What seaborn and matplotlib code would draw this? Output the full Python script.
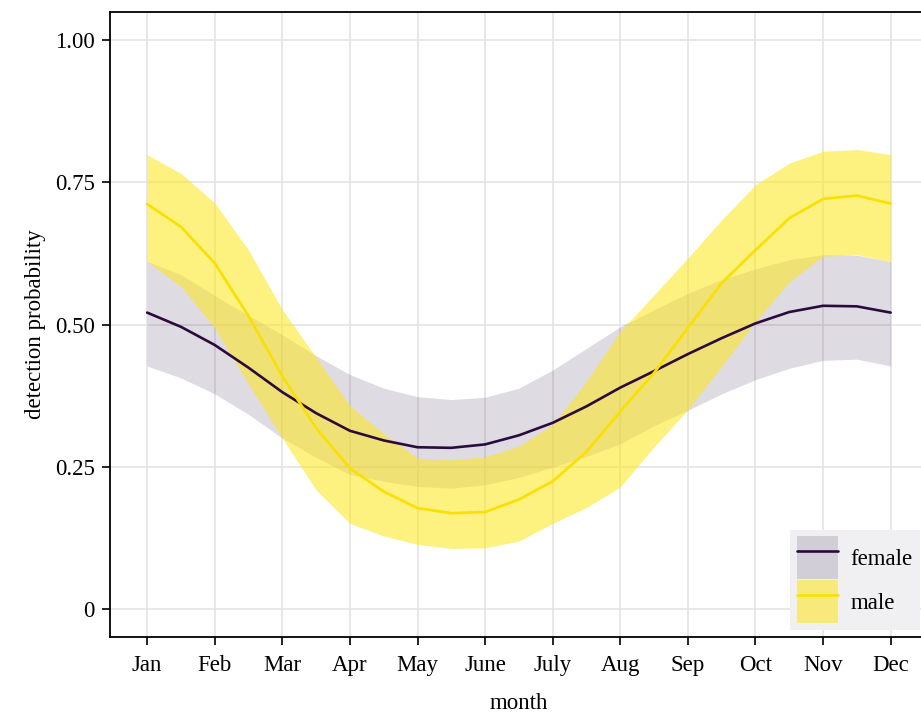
import numpy as np
import matplotlib.pyplot as plt
import pandas as pd
import seaborn as sns
from matplotlib.patches import Patch
from matplotlib.lines import Line2D

# month position (1 = Jan ... 12 = Dec), read at half-month steps
month_pos = [1, 1.5, 2, 2.5, 3, 3.5, 4, 4.5, 5, 5.5, 6, 6.5,
             7, 7.5, 8, 8.5, 9, 9.5, 10, 10.5, 11, 11.5, 12]
month_labels = ["Jan", "Feb", "Mar", "Apr", "May", "June",
                "July", "Aug", "Sep", "Oct", "Nov", "Dec"]

female_mean = [0.521, 0.496, 0.464, 0.424, 0.381, 0.344, 0.313, 0.296, 0.284, 0.283, 0.289, 0.305,
               0.327, 0.356, 0.389, 0.418, 0.448, 0.476, 0.502, 0.522, 0.533, 0.532, 0.521]
female_upper = [0.611, 0.588, 0.551, 0.516, 0.482, 0.445, 0.412, 0.388, 0.373, 0.368, 0.372, 0.388,
                0.420, 0.458, 0.496, 0.526, 0.555, 0.579, 0.598, 0.614, 0.623, 0.622, 0.611]
female_lower = [0.427, 0.406, 0.378, 0.342, 0.300, 0.266, 0.236, 0.224, 0.215, 0.212, 0.218, 0.231,
                0.249, 0.268, 0.290, 0.322, 0.349, 0.378, 0.403, 0.423, 0.437, 0.439, 0.427]

male_mean = [0.712, 0.672, 0.608, 0.515, 0.409, 0.318, 0.247, 0.206, 0.177, 0.168, 0.170, 0.192,
             0.224, 0.276, 0.347, 0.415, 0.494, 0.573, 0.631, 0.687, 0.721, 0.727, 0.713]
male_upper = [0.799, 0.766, 0.714, 0.631, 0.526, 0.442, 0.357, 0.308, 0.265, 0.262, 0.267, 0.286,
              0.324, 0.400, 0.488, 0.552, 0.617, 0.684, 0.746, 0.784, 0.805, 0.808, 0.799]
male_lower = [0.611, 0.567, 0.494, 0.395, 0.300, 0.209, 0.150, 0.128, 0.113, 0.106, 0.107, 0.119,
              0.150, 0.178, 0.214, 0.285, 0.350, 0.426, 0.505, 0.575, 0.620, 0.623, 0.611]

sns.set_style("whitegrid")
plt.rcParams["font.family"] = ["Liberation Serif", "DejaVu Serif"]
plt.rcParams["text.color"] = "black"
plt.rcParams["axes.labelcolor"] = "black"

female_line = "#2b0b3e"
male_line = "#f9e000"
female_fill = "#3b1f4d"
male_fill = "#fde725"
fs = 16.5

df = pd.concat([
    pd.DataFrame({"month": month_pos, "p": female_mean, "sex": "female"}),
    pd.DataFrame({"month": month_pos, "p": male_mean, "sex": "male"}),
])

fig = plt.figure(figsize=(9.21, 7.12), dpi=100)
ax = fig.add_axes([0.1194, 0.1053, 0.888, 0.8778])

ax.fill_between(month_pos, female_lower, female_upper, color=female_fill, alpha=0.16, lw=0)
ax.fill_between(month_pos, male_lower, male_upper, color=male_fill, alpha=0.58, lw=0)
sns.lineplot(data=df, x="month", y="p", hue="sex",
             palette={"female": female_line, "male": male_line},
             lw=1.9, legend=False, ax=ax)

ax.set_xlim(0.45, 12.55)
ax.set_ylim(-0.05, 1.05)
ax.set_xticks(range(1, 13))
ax.set_xticklabels(month_labels)
ax.set_yticks([0, 0.25, 0.5, 0.75, 1.0])
ax.set_yticklabels(["0", "0.25", "0.50", "0.75", "1.00"])

ax.grid(True, color="#e2e2e2", lw=1.1)
for s in ax.spines.values():
    s.set_color("black")
    s.set_linewidth(1.3)
ax.tick_params(bottom=True, left=True, direction="out", length=6, width=1.2,
               color="black", labelsize=fs, labelcolor="black")
ax.tick_params(axis="x", pad=7)
ax.tick_params(axis="y", pad=5)

ax.set_xlabel("month", fontsize=fs, labelpad=12)
ax.set_ylabel("detection probability", fontsize=fs, labelpad=6)

handles = [(Patch(fc=female_fill, alpha=0.16, lw=0), Line2D([], [], color=female_line, lw=1.9)),
           (Patch(fc=male_fill, alpha=0.58, lw=0), Line2D([], [], color=male_line, lw=1.9))]
leg = ax.legend(handles=handles, labels=["female", "male"], loc="lower right",
                bbox_to_anchor=(0.99, 0.011), borderaxespad=0, frameon=True,
                facecolor="#f0f0f2", edgecolor="none", fancybox=False, framealpha=1,
                fontsize=fs, handlelength=1.8, handleheight=2.5, labelspacing=0.05,
                handletextpad=0.55, borderpad=0.3)

fig.savefig("out.png", dpi=100)
